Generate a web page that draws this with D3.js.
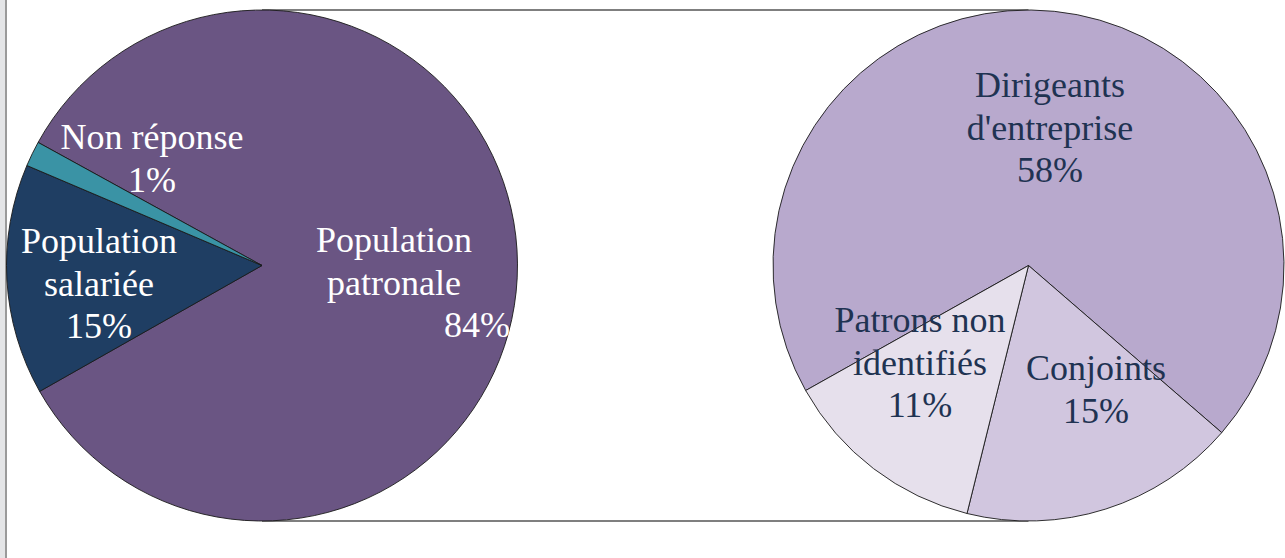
<!DOCTYPE html>
<html><head><meta charset="utf-8">
<script src="https://cdn.jsdelivr.net/npm/d3@7"></script>
<style>html,body{margin:0;padding:0;background:#fff;overflow:hidden}</style>
</head><body>
<svg id="c" width="1285" height="558"></svg>
<script>
// Left pie (whole population)
const leftCategories = ["Population patronale", "Population salariée", "Non réponse"];
const leftValues = [83.8, 14.6, 1.6];
const leftPctLabels = ["84%", "15%", "1%"];
const leftColors = ["#6A5583", "#1F3E63", "#3A93A5"];

// Right pie (breakdown of the employer population)
const rightCategories = ["Dirigeants d'entreprise", "Conjoints", "Patrons non identifiés"];
const rightValues = [58.3, 14.7, 10.9];
const rightPctLabels = ["58%", "15%", "11%"];
const rightColors = ["#B8A9CD", "#D1C6DF", "#E6E0EC"];

const svg = d3.select("#c");
const deg = Math.PI / 180;

// frame left border
svg.append("rect").attr("x", 0).attr("y", 0).attr("width", 5).attr("height", 558).attr("fill", "#E4E5E7");
svg.append("rect").attr("x", 5).attr("y", 0).attr("width", 2).attr("height", 558).attr("fill", "#9A9A9A");

const L = {cx: 262, cy: 265.5, r: 255.5};
const R = {cx: 1028.5, cy: 265.5, r: 255.5};

// connector lines
svg.append("line").attr("x1", L.cx).attr("x2", R.cx).attr("y1", L.cy - L.r).attr("y2", R.cy - R.r)
  .attr("stroke", "#555").attr("stroke-width", 1.6);
svg.append("line").attr("x1", L.cx).attr("x2", R.cx).attr("y1", L.cy + L.r).attr("y2", R.cy + R.r)
  .attr("stroke", "#555").attr("stroke-width", 1.6);

function drawPie(cfg, values, colors, start) {
  const pie = d3.pie().sort(null).startAngle(start).endAngle(start + 2 * Math.PI);
  const arc = d3.arc().innerRadius(0).outerRadius(cfg.r);
  const g = svg.append("g").attr("transform", `translate(${cfg.cx},${cfg.cy})`);
  g.selectAll("path").data(pie(values)).join("path")
    .attr("d", arc).attr("fill", (d, i) => colors[i])
    .attr("stroke", "#1a1a1a").attr("stroke-width", 0.9);
}
drawPie(L, leftValues, leftColors, -61.2 * deg);
drawPie(R, rightValues, rightColors, 240.7 * deg);

function label(lines, x, y0, color, xs) {
  lines.forEach((s, i) => {
    svg.append("text")
      .style("font-family", '"Liberation Serif"')
      .attr("font-size", 36).attr("fill", color).attr("text-anchor", "middle")
      .attr("x", xs && xs[i] != null ? xs[i] : x).attr("y", y0 + i * 42.5).text(s);
  });
}
const wc = "#FFFFFF", dc = "#1F3352";
label(["Non réponse", leftPctLabels[2]], 152, 149, wc);
label(["Population", "salariée", leftPctLabels[1]], 99, 253, wc);
label(["Population", "patronale", leftPctLabels[0]], 394, 252, wc, [394, 394, 477]);
label(["Dirigeants", "d'entreprise", rightPctLabels[0]], 1050, 97, dc);
label(["Patrons non", "identifiés", rightPctLabels[2]], 920, 332, dc);
label(["Conjoints", rightPctLabels[1]], 1096, 380, dc);
</script>
</body></html>
